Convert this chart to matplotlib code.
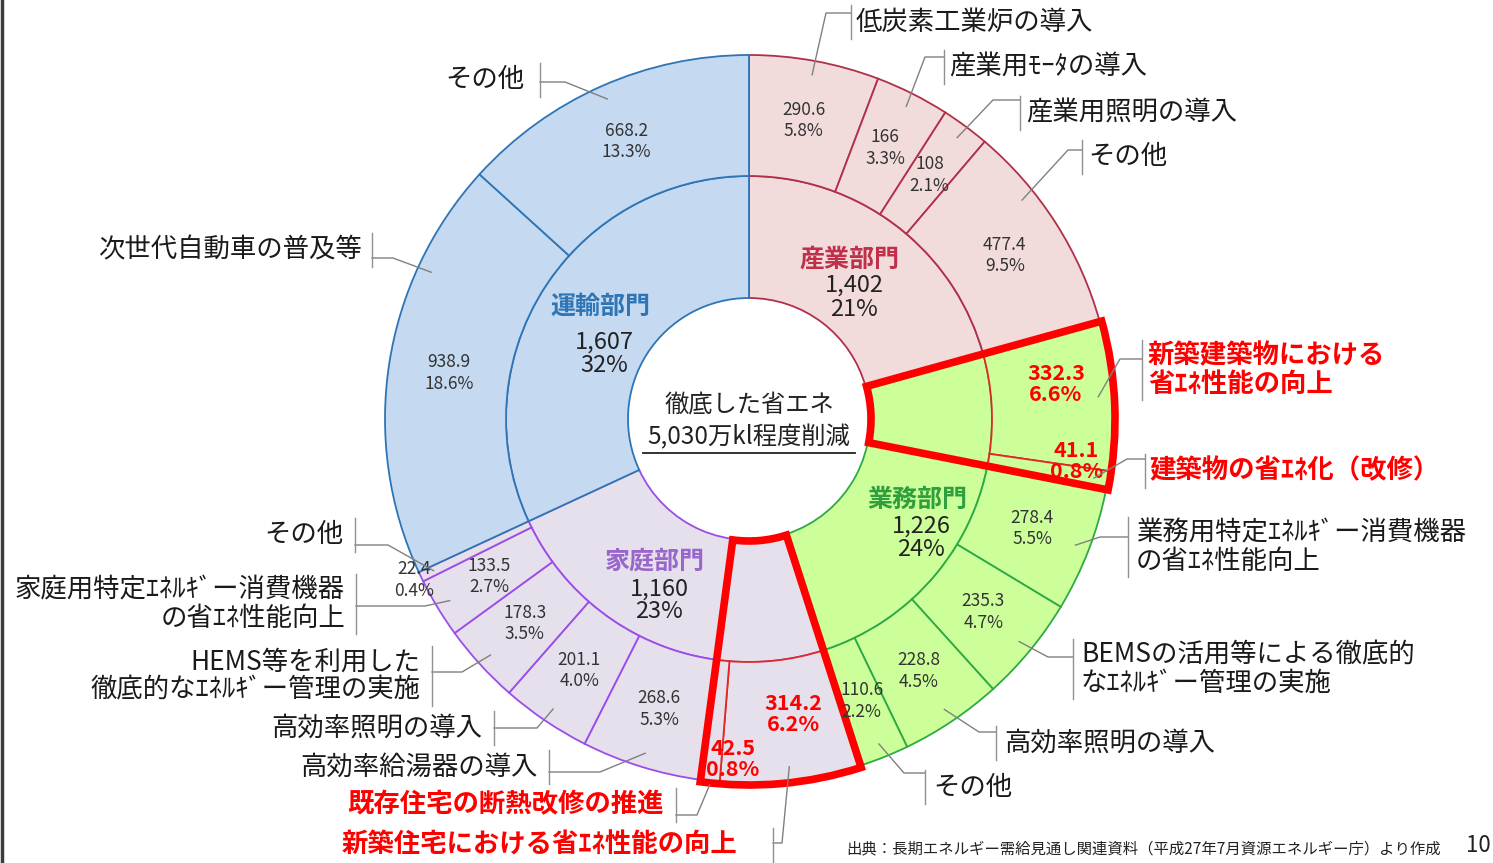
import matplotlib
matplotlib.use('Agg')
import matplotlib.pyplot as plt
from matplotlib.patches import Wedge
import numpy as np

plt.rcParams['font.family'] = ['Noto Sans CJK JP', 'DejaVu Sans']

# --- data ---
sector_names = ['産業部門', '業務部門', '家庭部門', '運輸部門']
sector_nums = ['1,402', '1,226', '1,160', '1,607']
sector_pcts = ['21%', '24%', '23%', '32%']

outer_values = [290.6, 166, 108, 477.4,
                332.3, 41.1, 278.4, 235.3, 228.8, 110.6,
                314.2, 42.5, 268.6, 201.1, 178.3, 133.5, 22.4,
                938.9, 668.2]
outer_pcts = ['5.8%', '3.3%', '2.1%', '9.5%',
              '6.6%', '0.8%', '5.5%', '4.7%', '4.5%', '2.2%',
              '6.2%', '0.8%', '5.3%', '4.0%', '3.5%', '2.7%', '0.4%',
              '18.6%', '13.3%']
outer_sector = [0, 0, 0, 0,
                1, 1, 1, 1, 1, 1,
                2, 2, 2, 2, 2, 2, 2,
                3, 3]
outer_names = ['低炭素工業炉の導入', '産業用ﾓｰﾀの導入', '産業用照明の導入', 'その他',
               '新築建築物における\n省ｴﾈ性能の向上', '建築物の省ｴﾈ化（改修）',
               '業務用特定ｴﾈﾙｷﾞー消費機器\nの省ｴﾈ性能向上',
               'BEMSの活用等による徹底的\nなｴﾈﾙｷﾞー管理の実施',
               '高効率照明の導入', 'その他',
               '新築住宅における省ｴﾈ性能の向上', '既存住宅の断熱改修の推進',
               '高効率給湯器の導入', '高効率照明の導入',
               'HEMS等を利用した\n徹底的なｴﾈﾙｷﾞー管理の実施',
               '家庭用特定ｴﾈﾙｷﾞー消費機器\nの省ｴﾈ性能向上', 'その他',
               '次世代自動車の普及等', 'その他']
highlight_groups = [[4, 5], [10, 11]]

center_line1 = '徹底した省エネ'
center_line2 = '5,030万kl程度削減'
source_text = '出典：長期エネルギー需給見通し関連資料（平成27年7月資源エネルギー庁）より作成'
page_no = '10'

# --- style / layout ---
sector_fill = ['#F2DCDB', '#CCFF99', '#E6E0EC', '#C5D9F1']
sector_edge = ['#B0304A', '#2EAA44', '#9B4DE8', '#2E75B6']
sector_text = ['#C0304A', '#2E9E3E', '#9966CC', '#2E75B6']
RED = '#FF0000'

W, H = 1493, 863
CX, CY = 749, 419
R_OUT, R_MID, R_HOLE = 364, 243, 121

# sector label positions (image px)
sector_pos = [(850, 260), (917, 500), (655, 562), (600, 307)]
sector_dy = [(25, 50), (26, 49), (27, 49), (35, 58)]

# value label overrides: index -> (radius, angle shift)
value_pos = {16: (372, 0), 5: (330, 2.4), 11: (340, 3.4), 4: (309, 2.9), 10: (298, 2.0)}
# anchor position inside segment (fraction from clockwise start)
anchor_frac = {17: 0.74, 3: 0.32}
anchor_r = {11: 368}

# label layout: (bar_x, label_y, elbow_x, elbow_y, side, gap)
label_layout = [
    (851, 22, 826, 13, 'R', 5),
    (944, 67, 925, 57, 'R', 5),
    (1020, 113, 993, 100, 'R', 6),
    (1082, 157, 1068, 150, 'R', 6),
    (1142, 370, 1120, 359, 'R', 6),
    (1145, 471, 1127, 459, 'R', 4),
    (1128, 547, 1100, 537, 'R', 8),
    (1073, 669, 1048, 657, 'R', 8),
    (996, 743, 979, 732, 'R', 8),
    (925, 787, 904, 773, 'R', 8),
    (773, 845, 782, 843, 'L', 36),
    (676, 805, 697, 815, 'L', 12),
    (549, 767, 600, 772, 'L', 11),
    (494, 728, 537, 728, 'L', 12),
    (432, 676, 462, 672, 'L', 12),
    (356, 604, 425, 606, 'L', 11),
    (355, 535, 388, 545, 'L', 12),
    (372, 250, 393, 258, 'L', 9),
    (540, 80, 565, 82, 'L', 16),
]


def iy(y):
    return H - y


def polar(ang, r):
    a = np.radians(ang)
    return CX + r * np.cos(a), CY - r * np.sin(a)


fig = plt.figure(figsize=(W / 100, H / 100), dpi=100)
ax = fig.add_axes([0, 0, 1, 1])

outer_values = np.array(outer_values)
outer_sector = np.array(outer_sector)
totals = [outer_values[outer_sector == k].sum() for k in range(4)]

inner_w, _ = ax.pie(totals, radius=R_MID, center=(CX, iy(CY)), startangle=90,
                    counterclock=False, colors=sector_fill,
                    wedgeprops=dict(width=R_MID - R_HOLE, linewidth=1.3))
for w, ec in zip(inner_w, sector_edge):
    w.set_edgecolor(ec)

hl = [i for g in highlight_groups for i in g]
outer_w, _ = ax.pie(outer_values, radius=R_OUT, center=(CX, iy(CY)), startangle=90,
                    counterclock=False, colors=[sector_fill[s] for s in outer_sector],
                    wedgeprops=dict(width=R_OUT - R_MID, linewidth=1.3))
for i, w in enumerate(outer_w):
    w.set_edgecolor('#E02828' if i in hl else sector_edge[outer_sector[i]])
    w.set_zorder(2)

# red boxes
for g in highlight_groups:
    t1 = min(outer_w[i].theta1 for i in g)
    t2 = max(outer_w[i].theta2 for i in g)
    ax.add_patch(Wedge((CX, iy(CY)), R_OUT + 2, t1, t2, width=R_OUT + 1 - R_HOLE,
                       fill=False, edgecolor=RED, linewidth=5.5,
                       joinstyle='miter', zorder=3))

# value labels in outer ring
for i, w in enumerate(outer_w):
    mid = (w.theta1 + w.theta2) / 2
    r, dt = value_pos.get(i, ((R_OUT + R_MID) / 2, 0))
    x, y = polar(mid + dt, r)
    txt = f'{outer_values[i]:g}\n{outer_pcts[i]}'
    if i in hl:
        ax.text(x, iy(y), txt, ha='center', va='center', fontsize=15.5,
                fontweight='bold', color=RED, linespacing=1.0, zorder=5)
    else:
        ax.text(x, iy(y), txt, ha='center', va='center', fontsize=12.5,
                color='#333333', linespacing=1.25, zorder=5)

# leaders and category labels
for i, w in enumerate(outer_w):
    bar_x, ly, ex, ey, side, gap = label_layout[i]
    f = anchor_frac.get(i, 0.5)
    ang = w.theta2 - f * (w.theta2 - w.theta1)
    axp, ayp = polar(ang, anchor_r.get(i, 350))
    ax.plot([axp, ex, bar_x], [iy(ayp), iy(ey), iy(ey)], color='#808080', lw=1, zorder=6)
    two = '\n' in outer_names[i]
    hh = 30 if two else 17
    ax.plot([bar_x, bar_x], [iy(ly - hh), iy(ly + hh)], color='#909090', lw=1, zorder=6)
    if side == 'R':
        tx, ha = bar_x + gap, 'left'
    else:
        tx, ha = bar_x - gap, 'right'
    red = i in hl
    ax.text(tx, iy(ly), outer_names[i], ha=ha, va='center', multialignment=ha,
            fontsize=19, fontweight='bold' if red else 'normal',
            color=RED if red else '#1a1a1a', linespacing=1.05, zorder=6)

# sector labels
for k in range(4):
    x, y = sector_pos[k]
    ax.text(x, iy(y), sector_names[k], ha='center', va='center', fontsize=18,
            fontweight='bold', color=sector_text[k], zorder=5)
    ax.text(x + 4, iy(y + sector_dy[k][0]), sector_nums[k], ha='center', va='center',
            fontsize=17, color='#222222', zorder=5)
    ax.text(x + 4, iy(y + sector_dy[k][1]), sector_pcts[k], ha='center', va='center',
            fontsize=17, color='#222222', zorder=5)

# center text
ax.text(CX, iy(405), center_line1, ha='center', va='center', fontsize=17.5, color='#222222')
ax.text(CX, iy(437), center_line2, ha='center', va='center', fontsize=17.5, color='#222222')
ax.plot([643, 855], [iy(453), iy(453)], color='#222222', lw=1.3)

# footer
ax.text(846, iy(849), source_text, ha='left', va='center', fontsize=11.1, color='#222222')
ax.text(1491, iy(845), page_no, ha='right', va='center', fontsize=16, color='#222222')

# left frame edge
ax.plot([1.5, 1.5], [0, H], color='#3c3c3c', lw=2.5)

ax.set_xlim(0, W)
ax.set_ylim(0, H)
ax.set_aspect('equal')
ax.axis('off')

fig.savefig('out.png', dpi=100, facecolor='white')
